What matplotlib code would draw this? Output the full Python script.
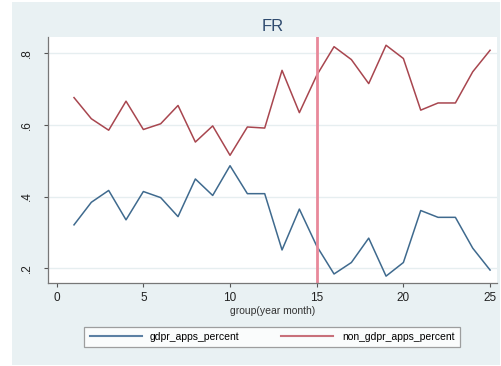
import matplotlib
matplotlib.use("Agg")
import matplotlib.pyplot as plt
from matplotlib.patches import Rectangle
from matplotlib.lines import Line2D

plt.rcParams["font.family"] = ["Liberation Sans", "DejaVu Sans"]

months = list(range(1, 26))
gdpr_apps_percent = [0.321, 0.384, 0.417, 0.335, 0.414, 0.397, 0.344, 0.449, 0.403, 0.486,
                     0.408, 0.408, 0.251, 0.365, 0.262, 0.184, 0.216, 0.284, 0.178, 0.216,
                     0.361, 0.342, 0.342, 0.256, 0.195]
non_gdpr_apps_percent = [0.676, 0.617, 0.585, 0.666, 0.587, 0.603, 0.654, 0.552, 0.597, 0.515,
                         0.594, 0.591, 0.752, 0.634, 0.738, 0.818, 0.782, 0.715, 0.822, 0.785,
                         0.641, 0.661, 0.661, 0.748, 0.808]
cutoff_month = 15
x_ticks = [0, 5, 10, 15, 20, 25]
y_ticks = [0.2, 0.4, 0.6, 0.8]
y_tick_labels = [".2", ".4", ".6", ".8"]

BLUE = "#3f6a8e"
RED = "#a8464f"
CUTOFF = "#e8899a"
PANEL_BG = "#e9f1f3"

fig = plt.figure(figsize=(5.02, 3.66), dpi=100, facecolor="white")
W, H = 502, 366
# light graph-region background, drawn behind the axes
fig.patches.append(Rectangle((12 / W, 1 - 365 / H), 488 / W, 363 / H,
                             transform=fig.transFigure, facecolor=PANEL_BG,
                             edgecolor="none", zorder=-10))

ax = fig.add_axes([48 / W, 1 - 283.3 / H, 449 / W, 246.3 / H])
ax.set_facecolor("white")
ax.plot(months, gdpr_apps_percent, color=BLUE, lw=1.1)
ax.plot(months, non_gdpr_apps_percent, color=RED, lw=1.1)
ax.axvline(cutoff_month, color=CUTOFF, lw=2)

ax.set_xlim(-0.5, 25.4)
ax.set_ylim(0.158, 0.845)
ax.set_xticks(x_ticks)
ax.set_yticks(y_ticks)
ax.set_yticklabels(y_tick_labels, rotation=90, va="center")
ax.tick_params(axis="both", labelsize=8.5, color="#555555", length=3, width=0.8,
               labelcolor="#222222")
ax.tick_params(axis="y", pad=8)
ax.grid(axis="y", color="#e6eef0", lw=1)
ax.set_axisbelow(True)
for side in ("top", "right"):
    ax.spines[side].set_visible(False)
for side in ("left", "bottom"):
    ax.spines[side].set_color("#777777")
    ax.spines[side].set_linewidth(0.9)

ax.set_xlabel("group(year month)", fontsize=7.5, color="#333333", labelpad=1)
ax.set_title("FR", fontsize=12, color="#2e4a6e", pad=4)

handles = [Line2D([], [], color="#5b80a3", lw=1.5),
           Line2D([], [], color="#c8707a", lw=1.5)]
leg = fig.legend(handles, ["gdpr_apps_percent", "non_gdpr_apps_percent"],
                 loc="center", bbox_to_anchor=(272 / W, 1 - 337 / H), ncol=2,
                 fontsize=7.5, frameon=True, fancybox=False, edgecolor="#888888",
                 handlelength=5, columnspacing=4, borderpad=0.5)
leg.get_frame().set_linewidth(0.9)

fig.savefig("out.png", dpi=100, facecolor="white")
